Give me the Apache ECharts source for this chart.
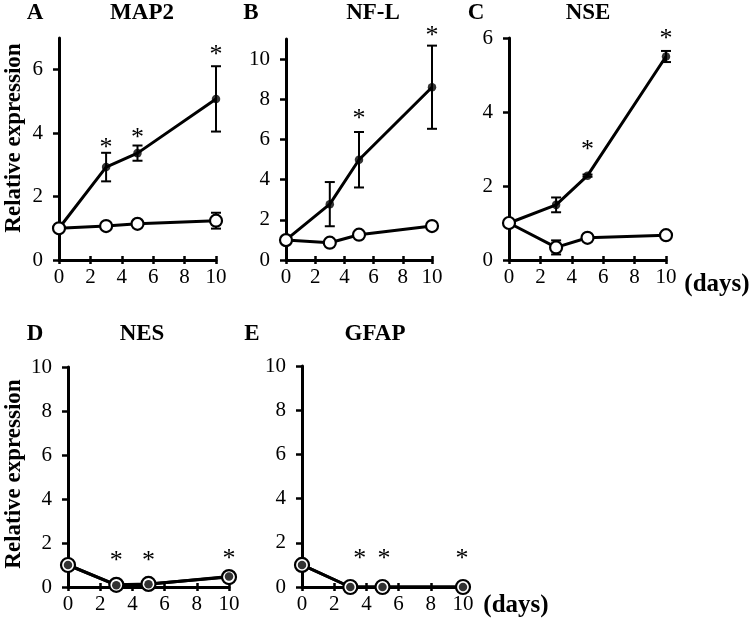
<!DOCTYPE html>
<html>
<head>
<meta charset="utf-8">
<script src="https://cdn.jsdelivr.net/npm/echarts@6/dist/echarts.min.js"></script>
<style>
html,body{margin:0;padding:0;background:#fff;}
#chart{width:755px;height:626px;}
</style>
</head>
<body>
<div id="chart"></div>
<script>
// ---------- data ----------
const days = [0, 3, 5, 10];
const xTicks = [0, 2, 4, 6, 8, 10];

const panelLetters = ['A', 'B', 'C', 'D', 'E'];
const panelTitles = ['MAP2', 'NF-L', 'NSE', 'NES', 'GFAP'];

const mapFilled = [1.0, 2.93, 3.37, 5.08];
const mapFilledErr = [0, 0.45, 0.24, 1.03];
const mapOpen = [1.0, 1.07, 1.14, 1.24];
const mapOpenErr = [0, 0, 0, 0.25];
const mapStars = [[3, 3.64], [5, 3.94], [10, 6.57]];
const mapYTicks = [0, 2, 4, 6];

const nflFilled = [1.0, 2.78, 4.99, 8.6];
const nflFilledErr = [0, 1.1, 1.38, 2.07];
const nflOpen = [0.99, 0.86, 1.26, 1.69];
const nflOpenErr = [0, 0, 0, 0];
const nflStars = [[5, 7.19], [10, 11.32]];
const nflYTicks = [0, 2, 4, 6, 8, 10];

const nseFilled = [1.0, 1.49, 2.28, 5.5];
const nseFilledErr = [0, 0.2, 0.03, 0.15];
const nseOpen = [1.0, 0.34, 0.6, 0.67];
const nseOpenErr = [0, 0.19, 0.03, 0.03];
const nseStars = [[5, 3.06], [10, 6.07]];
const nseYTicks = [0, 2, 4, 6];

const nesFilled = [1.0, 0.08, 0.12, 0.48];
const nesFilledErr = [0, 0, 0, 0];
const nesOpen = [1.0, 0.1, 0.14, 0.45];
const nesOpenErr = [0, 0, 0, 0];
const nesStars = [[3, 1.32], [5, 1.32], [10, 1.44]];
const nesYTicks = [0, 2, 4, 6, 8, 10];

const gfapFilled = [1.0, 0.0, 0.0, 0.0];
const gfapFilledErr = [0, 0, 0, 0];
const gfapOpen = [1.0, 0.0, 0.0, 0.0];
const gfapOpenErr = [0, 0, 0, 0];
const gfapStars = [[3.58, 1.43], [5.09, 1.43], [9.94, 1.43]];
const gfapYTicks = [0, 2, 4, 6, 8, 10];

const yMax = [7, 11, 6, 10, 10];

// ---------- layout / style ----------
const FONT = "'Liberation Serif', 'Times New Roman', serif";
const panels = [
  { filled: mapFilled, fErr: mapFilledErr, open: mapOpen, oErr: mapOpenErr, stars: mapStars, yTicks: mapYTicks,
    grid: { left: 59, top: 38, width: 157, height: 222 }, openSize: 12, dotTop: false },
  { filled: nflFilled, fErr: nflFilledErr, open: nflOpen, oErr: nflOpenErr, stars: nflStars, yTicks: nflYTicks,
    grid: { left: 286, top: 39, width: 146, height: 221 }, openSize: 12, dotTop: false },
  { filled: nseFilled, fErr: nseFilledErr, open: nseOpen, oErr: nseOpenErr, stars: nseStars, yTicks: nseYTicks,
    grid: { left: 509, top: 38, width: 157, height: 222 }, openSize: 12, dotTop: false },
  { filled: nesFilled, fErr: nesFilledErr, open: nesOpen, oErr: nesOpenErr, stars: nesStars, yTicks: nesYTicks,
    grid: { left: 68, top: 367, width: 161, height: 220 }, openSize: 14, dotTop: true },
  { filled: gfapFilled, fErr: gfapFilledErr, open: gfapOpen, oErr: gfapOpenErr, stars: gfapStars, yTicks: gfapYTicks,
    grid: { left: 302, top: 366, width: 161, height: 221 }, openSize: 14, dotTop: true }
];

const grids = [], xAxes = [], yAxes = [], series = [];

panels.forEach((p, i) => {
  grids.push(Object.assign({ containLabel: false }, p.grid));
  xAxes.push({
    type: 'value', gridIndex: i, min: 0, max: 10, interval: 2, position: 'bottom',
    axisLine: { show: true, onZero: false, lineStyle: { color: '#000', width: 3 } },
    axisTick: { show: true, inside: false, length: 4, lineStyle: { color: '#000', width: 2.5 } },
    axisLabel: { show: true, margin: 7, color: '#000', fontFamily: FONT, fontSize: 21, customValues: xTicks },
    splitLine: { show: false }
  });
  yAxes.push({
    type: 'value', gridIndex: i, min: 0, max: yMax[i], interval: 2, position: 'left',
    axisLine: { show: true, onZero: false, lineStyle: { color: '#000', width: 3 } },
    axisTick: { show: true, inside: false, length: 6, lineStyle: { color: '#000', width: 2.5 }, customValues: p.yTicks },
    axisLabel: { show: true, margin: 16, color: '#000', fontFamily: FONT, fontSize: 21, customValues: p.yTicks },
    splitLine: { show: false }
  });
});
// overlay x axes for the upward half of the crossing ticks
panels.forEach((p, i) => {
  xAxes.push({
    type: 'value', gridIndex: i, min: 0, max: 10, interval: 2, position: 'bottom',
    axisLine: { show: false, onZero: false },
    axisTick: { show: true, inside: true, length: 4, lineStyle: { color: '#000', width: 2.5 } },
    axisLabel: { show: false },
    splitLine: { show: false }
  });
});

function errData(vals, errs) {
  const out = [];
  vals.forEach((v, k) => { if (errs[k] > 0) out.push([days[k], v - errs[k], v + errs[k]]); });
  return out;
}
function pairs(vals) { return vals.map((v, k) => [days[k], v]); }

panels.forEach((p, i) => {
  // error bars
  series.push({
    type: 'custom', xAxisIndex: i, yAxisIndex: i, z: 2, silent: true,
    data: errData(p.filled, p.fErr).concat(errData(p.open, p.oErr)),
    renderItem: function (params, api) {
      const lo = api.coord([api.value(0), api.value(1)]);
      const hi = api.coord([api.value(0), api.value(2)]);
      const cw = 5;
      const st = { stroke: '#000', lineWidth: 2 };
      return {
        type: 'group', children: [
          { type: 'line', shape: { x1: lo[0], y1: lo[1], x2: hi[0], y2: hi[1] }, style: st },
          { type: 'line', shape: { x1: lo[0] - cw, y1: lo[1], x2: lo[0] + cw, y2: lo[1] }, style: st },
          { type: 'line', shape: { x1: hi[0] - cw, y1: hi[1], x2: hi[0] + cw, y2: hi[1] }, style: st }
        ]
      };
    }
  });
  // filled line
  series.push({
    type: 'line', xAxisIndex: i, yAxisIndex: i, z: 3, silent: true,
    data: pairs(p.filled), showSymbol: false, symbol: 'none',
    lineStyle: { color: '#000', width: 3 }
  });
  // open series
  series.push({
    type: 'line', xAxisIndex: i, yAxisIndex: i, z: 4, silent: true,
    data: pairs(p.open), symbol: 'circle', symbolSize: p.openSize, showSymbol: true,
    lineStyle: { color: '#000', width: 3 },
    itemStyle: { color: '#fff', borderColor: '#000', borderWidth: 2.2 }
  });
  // filled dots
  series.push({
    type: 'scatter', xAxisIndex: i, yAxisIndex: i, z: p.dotTop ? 5 : 3, silent: true,
    data: pairs(p.filled), symbol: 'circle', symbolSize: 8.5,
    itemStyle: { color: '#000' }
  });
  // significance stars
  series.push({
    type: 'custom', xAxisIndex: i, yAxisIndex: i, z: 6, silent: true, clip: false,
    data: p.stars,
    renderItem: function (params, api) {
      const pt = api.coord([api.value(0), api.value(1)]);
      return {
        type: 'text', x: pt[0], y: pt[1] + 3.5,
        style: { text: '*', fill: '#000', fontFamily: FONT, fontSize: 26, align: 'center', verticalAlign: 'middle' }
      };
    }
  });
});

function txt(x, y, text, size, bold, rot) {
  return {
    type: 'text', x: x, y: y, rotation: rot || 0, silent: true,
    style: { text: text, fill: '#000', fontFamily: FONT, fontSize: size, fontWeight: bold ? 'bold' : 'normal',
             align: 'center', verticalAlign: 'middle' }
  };
}
const letterPos = [[35, 13], [251, 13], [476, 13], [35, 334], [252, 334]];
const titlePos = [[142, 13], [373, 13], [588, 13], [142, 334], [375, 334]];
const graphics = [];
panelLetters.forEach((l, i) => graphics.push(txt(letterPos[i][0], letterPos[i][1], l, 23, true)));
panelTitles.forEach((t, i) => graphics.push(txt(titlePos[i][0], titlePos[i][1], t, 23, true)));
graphics.push(txt(14, 138, 'Relative expression', 23, true, Math.PI / 2));
graphics.push(txt(14, 474, 'Relative expression', 23, true, Math.PI / 2));
graphics.push(txt(717, 285, '(days)', 25, true));
graphics.push(txt(516, 606, '(days)', 25, true));

const chart = echarts.init(document.getElementById('chart'), null, { renderer: 'canvas' });
chart.setOption({
  animation: false,
  backgroundColor: '#fff',
  grid: grids,
  xAxis: xAxes,
  yAxis: yAxes,
  series: series,
  graphic: graphics
});
</script>
</body>
</html>
